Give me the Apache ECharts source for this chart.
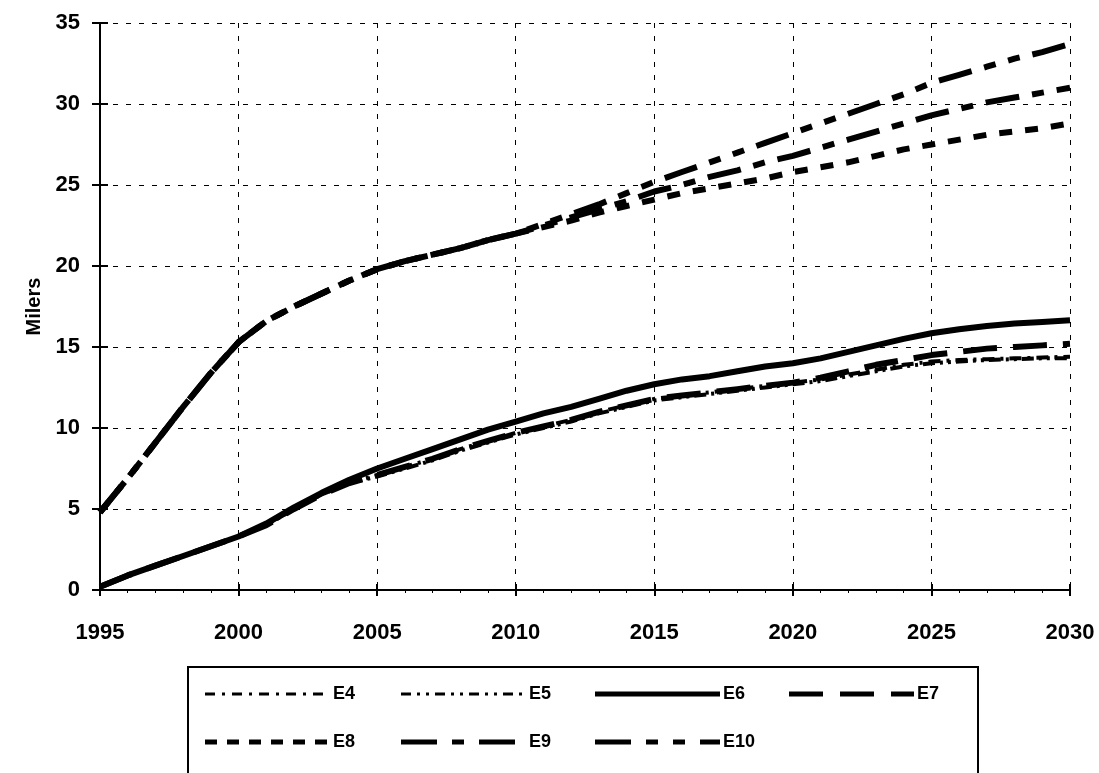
<!DOCTYPE html>
<html>
<head>
<meta charset="utf-8">
<script src="https://cdn.jsdelivr.net/npm/echarts@6/dist/echarts.min.js"></script>
<style>
html,body{margin:0;padding:0;background:#fff;}
#chart{width:1099px;height:773px;}
</style>
</head>
<body>
<div id="chart"></div>
<script>
// ---- data ----
const years = [1995,1996,1997,1998,1999,2000,2001,2002,2003,2004,2005,2006,2007,2008,2009,2010,2011,2012,2013,2014,2015,2016,2017,2018,2019,2020,2021,2022,2023,2024,2025,2026,2027,2028,2029,2030];
const seriesNames = ['E4','E5','E6','E7','E8','E9','E10'];
const E4  = [0.2,0.9,1.5,2.1,2.7,3.3,4.0,5.0,5.9,6.6,7.1,7.6,8.1,8.7,9.2,9.7,10.1,10.5,11.0,11.4,11.8,12.0,12.2,12.4,12.6,12.8,13.0,13.3,13.6,13.9,14.1,14.2,14.25,14.3,14.35,14.4];
const E5  = [0.2,0.9,1.5,2.1,2.7,3.3,4.0,5.0,5.9,6.6,7.0,7.5,8.0,8.6,9.1,9.6,10.0,10.4,10.9,11.3,11.7,11.9,12.1,12.3,12.5,12.7,12.9,13.2,13.5,13.8,14.0,14.1,14.2,14.25,14.3,14.3];
const E6  = [0.2,0.9,1.5,2.1,2.7,3.3,4.1,5.1,6.0,6.8,7.5,8.1,8.7,9.3,9.9,10.4,10.9,11.3,11.8,12.3,12.7,13.0,13.2,13.5,13.8,14.0,14.3,14.7,15.1,15.5,15.85,16.1,16.3,16.45,16.55,16.65];
const E7  = [0.2,0.9,1.5,2.1,2.7,3.3,4.0,5.0,5.9,6.6,7.1,7.6,8.1,8.7,9.2,9.7,10.1,10.5,11.0,11.4,11.8,12.0,12.2,12.4,12.6,12.8,13.1,13.5,13.9,14.2,14.5,14.7,14.9,15.0,15.1,15.2];
const E8  = [4.8,6.9,9.1,11.3,13.4,15.3,16.6,17.5,18.3,19.1,19.8,20.3,20.7,21.1,21.6,22.0,22.4,22.8,23.3,23.7,24.1,24.5,24.8,25.1,25.4,25.8,26.1,26.4,26.8,27.2,27.5,27.8,28.1,28.3,28.5,28.8];
const E9  = [4.8,6.9,9.1,11.3,13.4,15.3,16.6,17.5,18.3,19.1,19.8,20.3,20.7,21.1,21.6,22.0,22.5,23.0,23.5,24.0,24.6,25.0,25.5,25.9,26.4,26.8,27.3,27.8,28.3,28.8,29.3,29.7,30.1,30.4,30.7,31.0];
const E10 = [4.8,6.9,9.1,11.3,13.4,15.3,16.6,17.5,18.3,19.1,19.8,20.3,20.7,21.1,21.6,22.0,22.6,23.2,23.8,24.5,25.2,25.8,26.4,27.0,27.6,28.2,28.8,29.4,30.0,30.6,31.3,31.8,32.3,32.8,33.2,33.7];
const yTicks = [0,5,10,15,20,25,30,35];
const xTicks = [1995,2000,2005,2010,2015,2020,2025,2030];
const yAxisTitle = 'Milers';

const values = {E4,E5,E6,E7,E8,E9,E10};
const styles = {
  E4:  {width:4, type:[12,6,3,6]},
  E5:  {width:4, type:[12,5,3,5,3,5]},
  E6:  {width:6, type:'solid'},
  E7:  {width:6, type:[34,16]},
  E8:  {width:6, type:[13,13]},
  E9:  {width:6, type:[34,13,12,13]},
  E10: {width:6, type:[34,13,12,13,12,13]}
};
const legendStyles = {
  E4:  {width:3, dash:[10,7,3,7]},
  E5:  {width:3, dash:[10,6,3,6,3,6]},
  E6:  {width:5, dash:null},
  E7:  {width:5, dash:[34,17]},
  E8:  {width:5, dash:[12,10]},
  E9:  {width:5, dash:[36,15,12,15]},
  E10: {width:5, dash:[36,15,12,15,12,15]}
};

const FONT = '"Liberation Sans", Arial, sans-serif';
const chart = echarts.init(document.getElementById('chart'), null, {renderer:'canvas'});

const series = seriesNames.map(n => ({
  name: n,
  type: 'line',
  symbol: 'none',
  smooth: false,
  animation: false,
  data: years.map((y,i)=>[y, values[n][i]]),
  lineStyle: {color:'#000', width: styles[n].width, type: styles[n].type, cap:'butt', join:'round'},
  itemStyle: {color:'#000'}
}));

// legend layout (two rows, columns aligned)
const legendRows = [['E4','E5','E6','E7'],['E8','E9','E10']];
const legendRowY = [694, 742];
const legendColX = [205, 401, 595, 789];
const legendLineLen = 125;
const graphics = [{
  type:'rect', left:187, top:666, z:-1,
  shape:{width:790, height:130},
  style:{fill:'#fff', stroke:'#000', lineWidth:2}
}];
legendRows.forEach((row, r) => {
  row.forEach((n, c) => {
    const x = legendColX[c], y = legendRowY[r];
    graphics.push({
      type:'line', z:10,
      shape:{x1:x, y1:y, x2:x+legendLineLen, y2:y},
      style:{stroke:'#000', lineWidth:legendStyles[n].width, lineDash:legendStyles[n].dash, lineCap:'butt'}
    });
    graphics.push({
      type:'text', z:10, x:x+legendLineLen+3, y:y,
      style:{text:n, fill:'#000', font:'bold 18px "Liberation Sans", Arial, sans-serif', textVerticalAlign:'middle', verticalAlign:'middle'}
    });
  });
});

const gridLine = {show:true, lineStyle:{color:'#000', width:1, type:[5,8]}};

chart.setOption({
  animation:false,
  backgroundColor:'#fff',
  grid:{left:100, right:29, top:23, bottom:183, containLabel:false},
  xAxis:[{
    type:'value', min:1995, max:2030, interval:5,
    axisLine:{show:true, lineStyle:{color:'#000', width:2}},
    axisTick:{show:true, length:6, lineStyle:{color:'#000', width:2}},
    minorTick:{show:true, splitNumber:5, length:3, lineStyle:{color:'#000', width:1}},
    splitLine:gridLine,
    axisLabel:{color:'#000', fontFamily:FONT, fontWeight:'bold', fontSize:22, margin:32,
      formatter: v => xTicks.includes(v) ? String(v) : ''}
  },{
    type:'value', min:1995, max:2030, interval:5, position:'bottom',
    axisLine:{show:false}, axisTick:{show:true, inside:true, length:6, lineStyle:{color:'#000', width:2}},
    axisLabel:{show:false}, splitLine:{show:false}
  }],
  yAxis:[{
    type:'value', min:0, max:35, interval:5,
    name: yAxisTitle, nameLocation:'middle', nameRotate:90, nameGap:54,
    nameTextStyle:{color:'#000', fontFamily:FONT, fontWeight:'bold', fontSize:20},
    axisLine:{show:true, lineStyle:{color:'#000', width:2}},
    axisTick:{show:true, length:8, lineStyle:{color:'#000', width:2}},
    splitLine:gridLine,
    axisLabel:{color:'#000', fontFamily:FONT, fontWeight:'bold', fontSize:22, margin:20,
      formatter: v => yTicks.includes(v) ? String(v) : ''}
  },{
    type:'value', min:0, max:35, interval:5, position:'left',
    axisLine:{show:false}, axisTick:{show:true, inside:true, length:8, lineStyle:{color:'#000', width:2}},
    axisLabel:{show:false}, splitLine:{show:false}
  }],
  graphic: graphics,
  series: series
});
</script>
</body>
</html>
